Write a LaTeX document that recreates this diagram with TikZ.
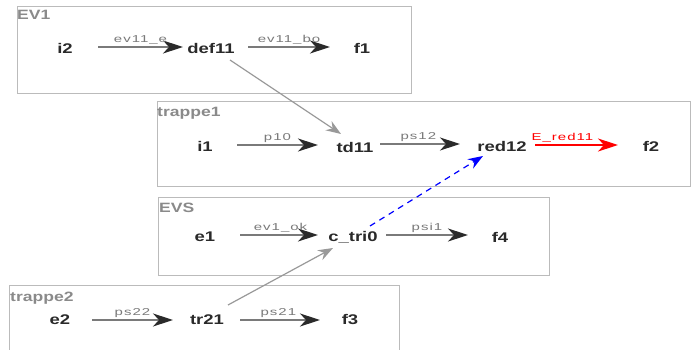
\documentclass[tikz,border=0pt]{standalone}
\usepackage{fontspec}
\setmainfont{Liberation Sans}
\newfontfamily\nodefont[FakeStretch=1.32]{Liberation Sans}
\newfontfamily\titfont[FakeStretch=1.3]{Liberation Sans}
\newfontfamily\labfont[FakeStretch=1.5,LetterSpace=10]{Liberation Sans}
\usetikzlibrary{arrows.meta}
\definecolor{boxgray}{HTML}{BBBBBB}
\definecolor{titlegray}{HTML}{8A8A8A}
\definecolor{labgray}{HTML}{7A7A7A}
\definecolor{shaft}{HTML}{7A7A7A}
\definecolor{headc}{HTML}{2A2A2A}
\definecolor{diag}{HTML}{999999}
\tikzset{
  grp/.style={draw=boxgray, line width=0.9pt},
  grptitle/.style={anchor=north west, inner sep=0pt, text=titlegray, font=\fontsize{13.5}{13.5}\selectfont\bfseries\titfont},
  st/.style={inner sep=0pt, text=headc, font=\fontsize{14}{14}\selectfont\bfseries\nodefont},
  lab/.style={inner sep=0pt, text=labgray, font=\fontsize{10}{10}\selectfont\labfont},
  tr/.style={draw=shaft, line width=1.4pt, -{Stealth[length=20pt,width=13pt,inset=6pt,color=headc]}},
  diagarr/.style={draw=diag, line width=1.2pt, -{Stealth[length=15pt,width=11pt,inset=5pt]}},
  redarr/.style={draw=red, line width=1.4pt, -{Stealth[length=20pt,width=13pt,inset=6pt]}},
  bluearr/.style={draw=blue, line width=1.2pt, dash pattern=on 6pt off 5pt, -{Stealth[length=15pt,width=11pt,inset=5pt]}}
}
\begin{document}
\begin{tikzpicture}[x=1pt,y=-1pt]
\useasboundingbox (0,0) rectangle (691,350);
\fill[white] (0,0) rectangle (691,350);
% groups
\draw[grp] (17,6) rectangle (411,93);
\node[grptitle] (tEV1) at (17,10) {EV1};
\draw[grp] (157,101) rectangle (690.5,186);
\node[grptitle] (ttr1) at (157,107) {trappe1};
\draw[grp] (158,197) rectangle (549,275);
\node[grptitle] (tEVS) at (159,203) {EVS};
\draw[grp] (9,285) rectangle (399,352);
\node[grptitle] (ttr2) at (10,292) {trappe2};
% states
\node[st] (i2) at (65,48) {i2};
\node[st] (def11) at (211,48) {def11};
\node[st] (f1) at (362,48) {f1};
\node[st] (i1) at (205,146) {i1};
\node[st] (td11) at (355,147) {td11};
\node[st] (red12) at (502,146) {red12};
\node[st] (f2) at (651,146) {f2};
\node[st] (e1) at (205,237) {e1};
\node[st] (ctri) at (353,237) {c\_tri0};
\node[st] (f4) at (500,237) {f4};
\node[st] (e2) at (60,320) {e2};
\node[st] (tr21) at (207,320) {tr21};
\node[st] (f3) at (350,320) {f3};
% transitions
\draw[tr] ([shift={(33,-1)}]i2.center) -- ([shift={(-28,-1)}]def11.center) node[lab,pos=0.5,above=2pt] (l1) {ev11\_e};
\draw[tr] ([shift={(37,-1)}]def11.center) -- ([shift={(-32,-1)}]f1.center) node[lab,pos=0.5,above=2pt] (l2) {ev11\_bo};
\draw[tr] ([shift={(32,-1)}]i1.center) -- ([shift={(-37,-2)}]td11.center) node[lab,pos=0.5,above=2pt] (l3) {p10};
\draw[tr] ([shift={(25,-3)}]td11.center) -- ([shift={(-42,-2)}]red12.center) node[lab,pos=0.48,above=2pt] (l4) {ps12};
\draw[redarr] ([shift={(33,-1)}]red12.center) -- ([shift={(-33,-1)}]f2.center) node[lab,pos=0.33,above=2pt,text=red] (l5) {E\_red11};
\draw[tr] ([shift={(35,-2)}]e1.center) -- ([shift={(-35,-2)}]ctri.center) node[lab,pos=0.52,above=2pt] (l6) {ev1\_ok};
\draw[tr] ([shift={(33,-2)}]ctri.center) -- ([shift={(-32,-2)}]f4.center) node[lab,pos=0.5,above=2pt] (l7) {psi1};
\draw[tr] ([shift={(32,0)}]e2.center) -- ([shift={(-34,0)}]tr21.center) node[lab,pos=0.5,above=2pt] (l8) {ps22};
\draw[tr] ([shift={(33,0)}]tr21.center) -- ([shift={(-30,0)}]f3.center) node[lab,pos=0.48,above=2pt] (l9) {ps21};
\draw[diagarr] ([shift={(19,12)}]def11.center) -- ([shift={(-14,-13)}]td11.center);
\draw[diagarr] ([shift={(21,-15)}]tr21.center) -- ([shift={(-20,11)}]ctri.center);
\draw[bluearr] ([shift={(17,-11)}]ctri.center) -- ([shift={(-19,10)}]red12.center);
\end{tikzpicture}
\end{document}
